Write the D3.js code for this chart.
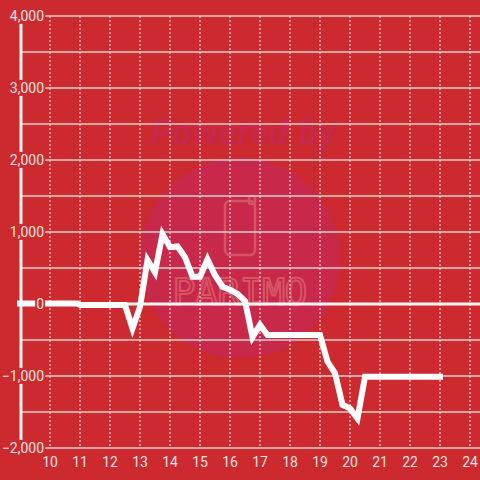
<!DOCTYPE html>
<html><head><meta charset="utf-8">
<script src="https://cdn.jsdelivr.net/npm/d3@7/dist/d3.min.js"></script>
<style>html,body{margin:0;padding:0;background:#cd2a2f;}svg{display:block;font-family:Roboto,"Liberation Sans",sans-serif;}</style>
</head><body>
<script>
const hours = [9, 10.9, 11, 12.5, 12.75, 13, 13.25, 13.5, 13.75, 14, 14.25, 14.5, 14.75, 15, 15.25, 15.5, 15.75, 16, 16.25, 16.5, 16.75, 17, 17.25, 19, 19.25, 19.5, 19.75, 20, 20.25, 20.5, 23];
const values = [8, 8, -15, -15, -340, -40, 610, 440, 970, 790, 800, 650, 380, 380, 620, 400, 240, 200, 140, 40, -460, -290, -430, -430, -800, -960, -1400, -1450, -1590, -1010, -1010];
const xTicks = [10, 11, 12, 13, 14, 15, 16, 17, 18, 19, 20, 21, 22, 23, 24];
const yTicks = [-2000, -1000, 0, 1000, 2000, 3000, 4000];
const yGrid = [-2000, -1500, -1000, -500, 0, 500, 1000, 1500, 2000, 2500, 3000, 3500, 4000];

const W = 480, H = 480, bg = "#cd2a2f";
const svg = d3.select("body").append("svg").attr("width", W).attr("height", H);
svg.append("rect").attr("width", W).attr("height", H).attr("fill", bg);

const x = d3.scaleLinear().domain([9, 24.3333]).range([20, 480]);
const y = d3.scaleLinear().domain([-2000, 4000]).range([448, 16]);

// watermark
const wm = svg.append("g");
wm.append("circle").attr("cx", 240).attr("cy", 258).attr("r", 100).attr("fill", "#c8284a");
wm.append("text").attr("x", 243).attr("y", 145).attr("text-anchor", "middle")
  .attr("font-size", 36).attr("font-weight", "bold").attr("font-style", "italic")
  .attr("textLength", 185).attr("lengthAdjust", "spacingAndGlyphs")
  .attr("fill", "#c8284a").text("Powered by");
wm.append("rect").attr("x", 225).attr("y", 201).attr("width", 30).attr("height", 54).attr("rx", 5)
  .attr("fill", "none").attr("stroke", "#d65464").attr("stroke-width", 2.5);
wm.append("rect").attr("x", 249).attr("y", 196).attr("width", 6).attr("height", 8).attr("rx", 2)
  .attr("fill", "none").attr("stroke", "#d65464").attr("stroke-width", 2.5);
wm.append("text").attr("x", 240).attr("y", 305).attr("text-anchor", "middle")
  .attr("font-size", 38).attr("font-family", "'DejaVu Sans Mono',monospace")
  .attr("fill", "none").attr("stroke", "#d65464").attr("stroke-width", 2)
  .attr("textLength", 135).attr("lengthAdjust", "spacing").text("PARIMO");

// horizontal grid
svg.append("g").selectAll("line").data(yGrid).join("line")
  .attr("x1", 21).attr("x2", W).attr("y1", d => y(d)).attr("y2", d => y(d))
  .attr("stroke", "#cfcfcf").attr("stroke-width", 1.5);
// vertical dotted grid
svg.append("g").selectAll("line").data(xTicks).join("line")
  .attr("x1", d => x(d)).attr("x2", d => x(d)).attr("y1", y(4000)).attr("y2", y(-2000))
  .attr("stroke", "#eeeeee").attr("stroke-width", 1).attr("stroke-dasharray", "2,2");

// y axis line
svg.append("line").attr("x1", 21).attr("x2", 21).attr("y1", y(4000)).attr("y2", y(-2000))
  .attr("stroke", "#f2f2f2").attr("stroke-width", 3);
// zero line
svg.append("line").attr("x1", 21).attr("x2", W).attr("y1", y(0)).attr("y2", y(0))
  .attr("stroke", "#f5f5f5").attr("stroke-width", 3);

// data line
const line = d3.line().x((d, i) => x(hours[i])).y(d => y(d));
svg.append("path").datum(values).attr("d", line).attr("fill", "none")
  .attr("stroke", "#ffffff").attr("stroke-width", 6).attr("stroke-linecap", "square").attr("stroke-linejoin", "miter");

// y labels with background
const fmt = d3.format(",");
const yl = svg.append("g").selectAll("g").data(yTicks).join("g")
  .attr("transform", d => `translate(44,${y(d)})`);
yl.each(function(d) {
  const g = d3.select(this);
  const t = g.append("text").attr("text-anchor", "end").attr("dy", "0.35em")
    .attr("font-size", 14).attr("fill", "#f3e2e2").text(fmt(d));
  const bb = t.node().getBBox();
  g.insert("rect", "text").attr("x", bb.x - 1).attr("y", bb.y).attr("width", bb.width + 2).attr("height", bb.height).attr("fill", bg);
});

// x labels
svg.append("g").selectAll("text").data(xTicks).join("text")
  .attr("x", d => x(d)).attr("y", 462).attr("dy", "0.35em").attr("text-anchor", "middle")
  .attr("font-size", 14).attr("fill", "#f3e2e2").text(d => d);
</script>
</body></html>
